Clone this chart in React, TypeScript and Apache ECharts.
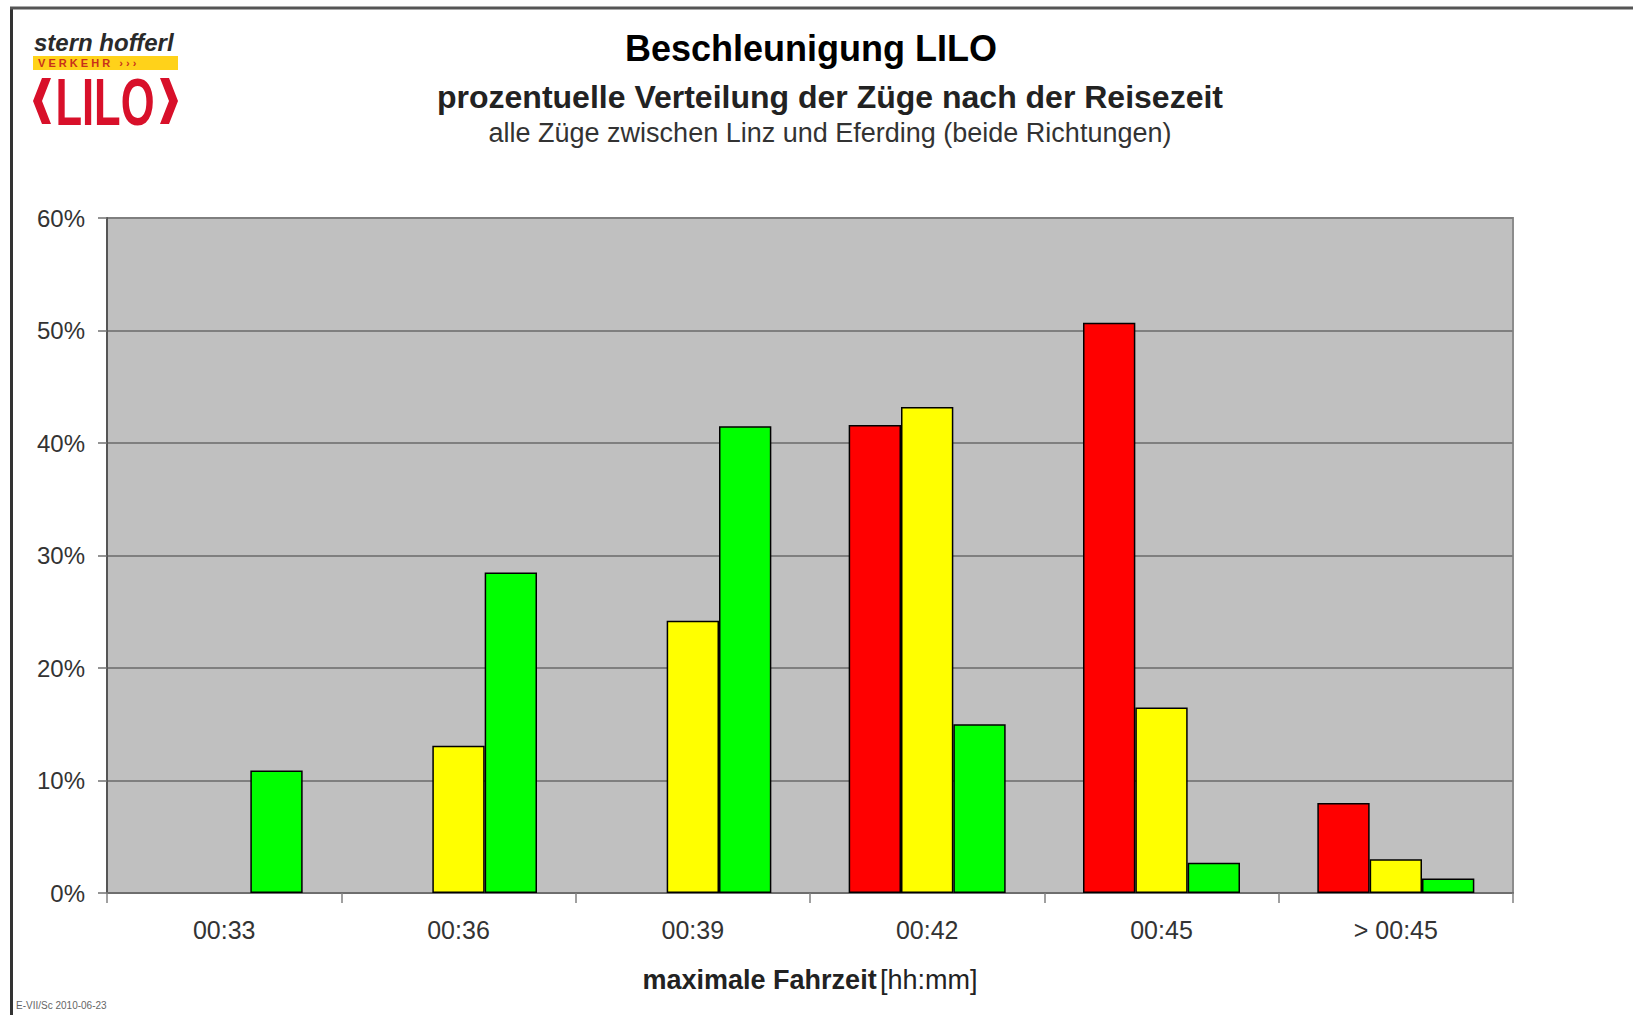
import React, { useEffect, useRef } from "react";
import * as echarts from "echarts";

const categories = ["00:33", "00:36", "00:39", "00:42", "00:45", "> 00:45"];
const redValues = [null, null, null, 41.6, 50.7, 8.0];
const yellowValues = [null, 13.1, 24.2, 43.2, 16.5, 3.0];
const greenValues = [10.9, 28.5, 41.5, 15.0, 2.7, 1.3];
const yTicks = { min: 0, max: 60, interval: 10 };

const FONT = "'Liberation Sans', Arial, Helvetica, sans-serif";

export default function App() {
  const ref = useRef<HTMLDivElement>(null);

  useEffect(() => {
    document.body.style.margin = "0";
    const chart = echarts.init(ref.current!, undefined, { renderer: "svg" });
    const barStyle = (color: string) => ({
      color,
      borderColor: "#000",
      borderWidth: 1.5,
    });
    chart.setOption({
      animation: false,
      backgroundColor: "#ffffff",
      textStyle: { fontFamily: FONT },
      grid: {
        left: 107,
        right: 120,
        top: 218,
        bottom: 122,
        show: true,
        backgroundColor: "#c0c0c0",
        borderColor: "#8c8c8c",
        borderWidth: 2,
        containLabel: false,
      },
      xAxis: {
        type: "category",
        data: categories,
        axisLine: { show: true, lineStyle: { color: "#6e6e6e", width: 2 } },
        axisTick: {
          show: true,
          alignWithLabel: false,
          interval: 0,
          length: 10,
          lineStyle: { color: "#808080", width: 1.5 },
        },
        axisLabel: {
          interval: 0,
          margin: 24,
          fontSize: 25,
          color: "#333",
          fontFamily: FONT,
        },
        name: "{b|maximale Fahrzeit} {r|[hh:mm]}",
        nameLocation: "middle",
        nameGap: 73,
        nameTextStyle: {
          rich: {
            b: { fontSize: 27, fontWeight: "bold", color: "#222", fontFamily: FONT },
            r: { fontSize: 27, color: "#222", fontFamily: FONT },
          },
        },
      },
      yAxis: {
        type: "value",
        min: yTicks.min,
        max: yTicks.max,
        interval: yTicks.interval,
        axisLine: { show: true, lineStyle: { color: "#555", width: 2 } },
        axisTick: { show: true, length: 9, lineStyle: { color: "#707070", width: 1.5 } },
        axisLabel: {
          formatter: "{value}%",
          margin: 22,
          fontSize: 24,
          color: "#333",
          fontFamily: FONT,
        },
        splitLine: { show: true, lineStyle: { color: "#7f7f7f", width: 2 } },
      },
      series: [
        {
          type: "bar",
          name: "rot",
          data: redValues,
          barGap: "0%",
          barCategoryGap: "33%",
          itemStyle: barStyle("#ff0000"),
        },
        {
          type: "bar",
          name: "gelb",
          data: yellowValues,
          barGap: "0%",
          barCategoryGap: "33%",
          itemStyle: barStyle("#ffff00"),
        },
        {
          type: "bar",
          name: "grün",
          data: greenValues,
          barGap: "0%",
          barCategoryGap: "33%",
          itemStyle: barStyle("#00ff00"),
        },
      ],
      graphic: [
        // frame
        {
          type: "line",
          shape: { x1: 11.5, y1: 8, x2: 11.5, y2: 1020 },
          style: { stroke: "#333", lineWidth: 3 },
        },
        {
          type: "line",
          shape: { x1: 10, y1: 8, x2: 1640, y2: 8 },
          style: { stroke: "#555", lineWidth: 3 },
        },
        // titles
        {
          type: "text",
          x: 811,
          y: 48,
          style: {
            text: "Beschleunigung LILO",
            fontSize: 36,
            fontWeight: "bold",
            fontFamily: FONT,
            fill: "#000",
            align: "center",
            verticalAlign: "middle",
          },
        },
        {
          type: "text",
          x: 830,
          y: 97,
          style: {
            text: "prozentuelle Verteilung der Züge nach der Reisezeit",
            fontSize: 32,
            fontWeight: "bold",
            fontFamily: FONT,
            fill: "#222",
            align: "center",
            verticalAlign: "middle",
          },
        },
        {
          type: "text",
          x: 830,
          y: 133,
          style: {
            text: "alle Züge zwischen Linz und Eferding (beide Richtungen)",
            fontSize: 27,
            fontFamily: FONT,
            fill: "#333",
            align: "center",
            verticalAlign: "middle",
          },
        },
        // logo
        {
          type: "text",
          x: 34,
          y: 42,
          style: {
            text: "stern hofferl",
            fontSize: 24,
            fontWeight: "bold",
            fontStyle: "italic",
            fontFamily: FONT,
            fill: "#2a2a2a",
            align: "left",
            verticalAlign: "middle",
          },
        },
        {
          type: "rect",
          shape: { x: 33, y: 56, width: 145, height: 14 },
          style: { fill: "#ffd21a" },
        },
        {
          type: "text",
          x: 38,
          y: 63,
          style: {
            text: "V E R K E H R   › › ›",
            fontSize: 11,
            fontWeight: "bold",
            fontFamily: FONT,
            fill: "#c8301a",
            align: "left",
            verticalAlign: "middle",
          },
        },
        {
          type: "polygon",
          shape: {
            points: [
              [51, 78],
              [42, 78],
              [33, 101],
              [42, 124],
              [51, 124],
              [42, 101],
            ],
          },
          style: { fill: "#d8102a" },
        },
        {
          type: "polygon",
          shape: {
            points: [
              [160, 78],
              [169, 78],
              [178, 101],
              [169, 124],
              [160, 124],
              [169, 101],
            ],
          },
          style: { fill: "#d8102a" },
        },
        {
          type: "text",
          x: 105,
          y: 102,
          scaleX: 0.66,
          style: {
            text: "LILO",
            fontSize: 66,
            fontWeight: "bold",
            fontFamily: FONT,
            fill: "#d8102a",
            align: "center",
            verticalAlign: "middle",
          },
        },
        // footer
        {
          type: "text",
          x: 16,
          y: 1005,
          style: {
            text: "E-VII/Sc 2010-06-23",
            fontSize: 10,
            fontFamily: FONT,
            fill: "#666",
            align: "left",
            verticalAlign: "middle",
          },
        },
      ],
    });
    return () => chart.dispose();
  }, []);

  return <div ref={ref} style={{ width: 1633, height: 1015 }} />;
}
